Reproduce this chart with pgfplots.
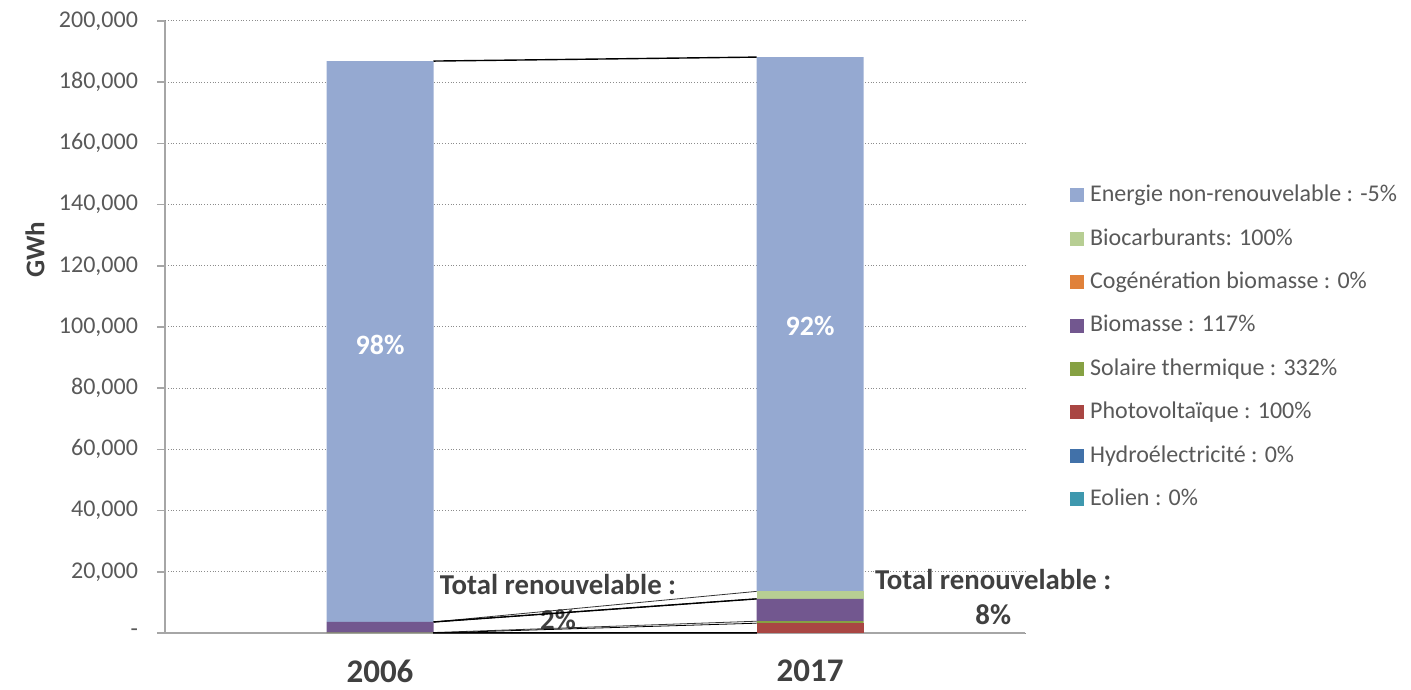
\documentclass[border=0pt]{standalone}
\usepackage{pgfplots}
\usepackage{pgfplotstable}
\pgfplotsset{compat=1.18}
\usepackage{fontspec}
\setmainfont{Carlito}

\definecolor{nonren}{HTML}{95A9D1}
\definecolor{biocarb}{HTML}{B7CE93}
\definecolor{cogen}{HTML}{E0813A}
\definecolor{biomasse}{HTML}{72578F}
\definecolor{solaire}{HTML}{86A143}
\definecolor{pv}{HTML}{A94643}
\definecolor{hydro}{HTML}{4171A9}
\definecolor{eolien}{HTML}{3E98AE}
\definecolor{txt}{HTML}{595959}
\definecolor{dark}{HTML}{404040}

% GWh per year, bottom of the stack first
\pgfplotstableread{
year eolien hydro pv sol bio cog biocarb nr
2006 0 0 0 150 3450 0 0 183300
2017 0 0 3200 650 7300 0 2450 174600
}\energydata

\pgfplotsset{
  base/.style={
    scale only axis,
    width=430pt, height=306pt,
    xmin=-0.5, xmax=1.5,
    ymin=0, ymax=200000,
    clip=false,
    scaled y ticks=false,
  },
}

\begin{document}
\begin{tikzpicture}
\begin{axis}[
  base,
  ybar stacked,
  bar width=53.5pt,
  axis x line*=bottom,
  axis y line*=left,
  axis line style={-, draw=black!35, line width=0.8pt},
  xtick={0,1},
  xticklabels={2006,2017},
  major x tick style={draw=none},
  xticklabel style={font=\fontsize{16.5}{19}\selectfont\bfseries, text=dark, yshift=-6pt},
  ytick={0,20000,...,200000},
  yticklabels={{-},{20,000},{40,000},{60,000},{80,000},{100,000},{120,000},{140,000},{160,000},{180,000},{200,000}},
  yticklabel style={font=\fontsize{12}{14}\selectfont, text=txt, xshift=-6pt},
  major y tick style={draw=black!35, line width=0.8pt},
  tick align=outside,
  major tick length=4pt,
  ymajorgrids,
  grid style={densely dotted, draw=black!45, line width=0.5pt},
  ylabel={GWh},
  every axis y label/.style={at={(rel axis cs:0,0.626)}, xshift=-65pt, rotate=90, anchor=center,
    font=\fontsize{13.5}{16}\selectfont\bfseries, text=dark},
  reverse legend,
  legend style={at={(rel axis cs:1.045,0.740)}, anchor=north west, draw=none, fill=none,
    font=\fontsize{12}{14}\selectfont, text=txt, row sep=10.8pt,
    nodes={inner sep=0pt, text height=8.6pt, text depth=2.3pt}},
  legend cell align=left,
  /tikz/every odd column/.append style={column sep=3pt},
  legend image code/.code={\fill[#1] (0pt,-3.5pt) rectangle (7pt,3.5pt);},
]
\addplot[fill=eolien, draw=none] table[x expr=\coordindex, y=eolien]{\energydata};
\addplot[fill=hydro, draw=none] table[x expr=\coordindex, y=hydro]{\energydata};
\addplot[fill=pv, draw=none] table[x expr=\coordindex, y=pv]{\energydata};
\addplot[fill=solaire, draw=none] table[x expr=\coordindex, y=sol]{\energydata};
\addplot[fill=biomasse, draw=none] table[x expr=\coordindex, y=bio]{\energydata};
\addplot[fill=cogen, draw=none] table[x expr=\coordindex, y=cog]{\energydata};
\addplot[fill=biocarb, draw=none] table[x expr=\coordindex, y=biocarb]{\energydata};
\addplot[fill=nonren, draw=none] table[x expr=\coordindex, y=nr]{\energydata};
\legend{Eolien : 0\%, Hydroélectricité : 0\%, Photovoltaïque : 100\%, Solaire thermique : 332\%,
  Biomasse : 117\%, Cogénération biomasse : 0\%, Biocarburants: 100\%, Energie non-renouvelable : -5\%}

% frame of the whole chart
\path (rel axis cs:0,0) ++(-82.5pt,-27.5pt) rectangle ++(705.5pt,344pt);
\end{axis}

% series lines joining the segment tops of the two bars, and the labels
\begin{axis}[
  base,
  hide axis,
  stack plots=y,
  cycle list={{draw=black!80, line width=0.7pt, no markers}},
]
\addplot table[x expr=0.1244+0.7512*\coordindex, y=eolien]{\energydata};
\addplot table[x expr=0.1244+0.7512*\coordindex, y=hydro]{\energydata};
\addplot table[x expr=0.1244+0.7512*\coordindex, y=pv]{\energydata};
\addplot table[x expr=0.1244+0.7512*\coordindex, y=sol]{\energydata};
\addplot table[x expr=0.1244+0.7512*\coordindex, y=bio]{\energydata};
\addplot table[x expr=0.1244+0.7512*\coordindex, y=cog]{\energydata};
\addplot table[x expr=0.1244+0.7512*\coordindex, y=biocarb]{\energydata};
\addplot table[x expr=0.1244+0.7512*\coordindex, y=nr]{\energydata};

\node[text=white, font=\fontsize{14}{16}\selectfont\bfseries] at (axis cs:0,94200) {98\%};
\node[text=white, font=\fontsize{14}{16}\selectfont\bfseries] at (axis cs:1,100300) {92\%};
\node[text=dark, font=\fontsize{14.4}{17.5}\selectfont\bfseries, align=center] at (axis cs:0.414,10100)
  {Total renouvelable :\\2\%};
\node[text=dark, font=\fontsize{14.4}{17.5}\selectfont\bfseries, align=center] at (axis cs:1.426,11800)
  {Total renouvelable :\\8\%};
\end{axis}
\end{tikzpicture}
\end{document}
